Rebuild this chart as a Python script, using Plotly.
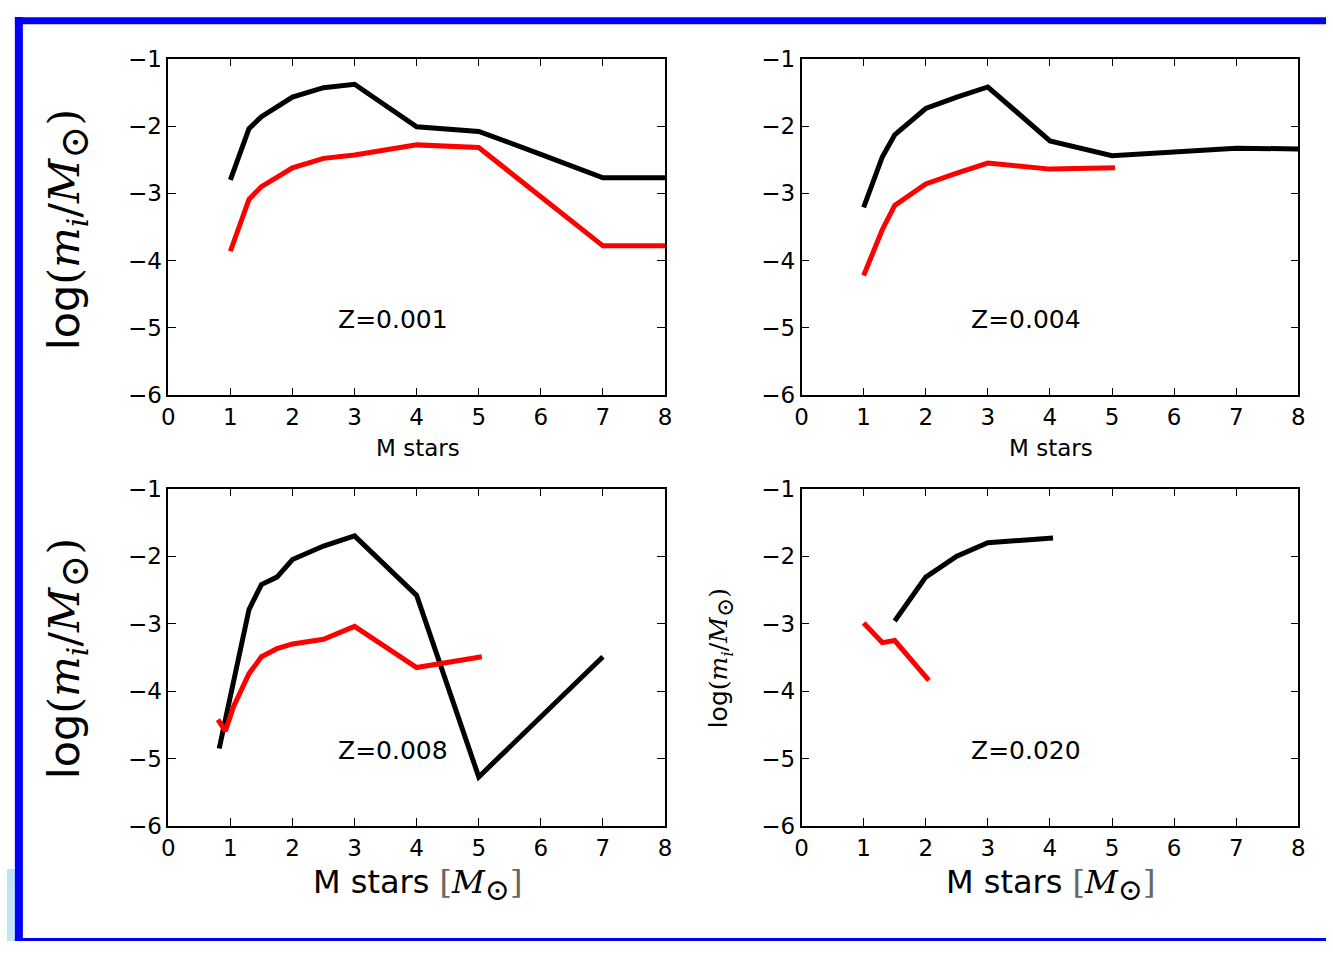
import plotly.graph_objects as go

# ---------------- data ----------------
# Z = 0.001
m1_black = [1.0, 1.3, 1.5, 2.0, 2.5, 3.0, 4.0, 5.0, 6.0, 7.0, 8.0]
y1_black = [-2.80, -2.04, -1.86, -1.57, -1.43, -1.38, -2.01, -2.08, -2.42, -2.77, -2.77]
m1_red = [1.0, 1.3, 1.5, 2.0, 2.5, 3.0, 4.0, 5.0, 7.0, 8.0]
y1_red = [-3.86, -3.09, -2.90, -2.62, -2.48, -2.43, -2.28, -2.32, -3.78, -3.78]

# Z = 0.004
m2_black = [1.0, 1.3, 1.5, 2.0, 2.5, 3.0, 4.0, 5.0, 7.0, 8.0]
y2_black = [-3.21, -2.46, -2.13, -1.74, -1.57, -1.42, -2.22, -2.44, -2.33, -2.34]
m2_red = [1.0, 1.3, 1.5, 2.0, 2.5, 3.0, 4.0, 5.05]
y2_red = [-4.22, -3.54, -3.18, -2.86, -2.70, -2.55, -2.64, -2.62]

# Z = 0.008
m3_black = [0.82, 1.3, 1.5, 1.75, 2.0, 2.5, 3.0, 4.0, 5.0, 7.0]
y3_black = [-4.85, -2.79, -2.42, -2.31, -2.05, -1.85, -1.70, -2.58, -5.27, -3.49]
m3_red = [0.8, 0.92, 1.05, 1.3, 1.5, 1.75, 2.0, 2.5, 3.0, 4.0, 5.05]
y3_red = [-4.42, -4.59, -4.23, -3.74, -3.49, -3.37, -3.30, -3.23, -3.04, -3.65, -3.49]

# Z = 0.020
m4_black = [1.5, 1.75, 2.0, 2.5, 3.0, 4.05]
y4_black = [-2.96, -2.64, -2.31, -2.00, -1.80, -1.73]
m4_red = [1.0, 1.3, 1.5, 1.75, 2.05]
y4_red = [-2.99, -3.28, -3.25, -3.53, -3.84]

panel_labels = ["Z=0.001", "Z=0.004", "Z=0.008", "Z=0.020"]
x_ticks = [0, 1, 2, 3, 4, 5, 6, 7, 8]
y_ticks = [-6, -5, -4, -3, -2, -1]
y_ticktext = ["\u22126", "\u22125", "\u22124", "\u22123", "\u22122", "\u22121"]

# ---------------- figure ----------------
W, H = 1333, 954
fig = go.Figure()

series = [
    (m1_black, y1_black, m1_red, y1_red, "x", "y"),
    (m2_black, y2_black, m2_red, y2_red, "x2", "y2"),
    (m3_black, y3_black, m3_red, y3_red, "x3", "y3"),
    (m4_black, y4_black, m4_red, y4_red, "x4", "y4"),
]
for mb, yb, mr, yr, xa, ya in series:
    fig.add_trace(go.Scatter(x=mb, y=yb, mode="lines", xaxis=xa, yaxis=ya,
                             line=dict(color="black", width=5), showlegend=False))
    fig.add_trace(go.Scatter(x=mr, y=yr, mode="lines", xaxis=xa, yaxis=ya,
                             line=dict(color="#ff0000", width=5), showlegend=False))

def px_x(p):
    return p / W

def px_y(p):
    return 1 - p / H

xdom_left = [px_x(163), px_x(665)]
xdom_right = [px_x(803), px_x(1305)]
ydom_top = [px_y(393), px_y(47)]
ydom_bot = [px_y(836), px_y(489)]

font_main = "DejaVu Sans"
axis_common = dict(
    showline=True, linecolor="black", linewidth=1.5, mirror="allticks",
    ticks="inside", ticklen=8, tickwidth=1, tickcolor="black",
    showgrid=False, zeroline=False,
    tickfont=dict(family=font_main, size=23, color="black"),
)
xcommon = dict(axis_common, range=[0, 8], tickvals=x_ticks)
ycommon = dict(axis_common, range=[-6, -1], tickvals=y_ticks, ticktext=y_ticktext)

fig.update_layout(
    width=W, height=H,
    margin=dict(l=0, r=0, t=0, b=0),
    paper_bgcolor="white", plot_bgcolor="white",
    xaxis=dict(xcommon, domain=xdom_left, anchor="y"),
    yaxis=dict(ycommon, domain=ydom_top, anchor="x"),
    xaxis2=dict(xcommon, domain=xdom_right, anchor="y2"),
    yaxis2=dict(ycommon, domain=ydom_top, anchor="x2"),
    xaxis3=dict(xcommon, domain=xdom_left, anchor="y3"),
    yaxis3=dict(ycommon, domain=ydom_bot, anchor="x3"),
    xaxis4=dict(xcommon, domain=xdom_right, anchor="y4"),
    yaxis4=dict(ycommon, domain=ydom_bot, anchor="x4"),
)

annotations = []
# panel labels
for lab, xr, yr in zip(panel_labels, ["x", "x2", "x3", "x4"], ["y", "y2", "y3", "y4"]):
    annotations.append(dict(text=lab, x=2.7, y=-4.88, xref=xr, yref=yr,
                            xanchor="left", yanchor="middle", showarrow=False,
                            font=dict(family=font_main, size=25, color="black")))

def ylab(sz):
    return ('log<span style="font-family:DejaVu Serif">(<i>m</i><sub><i>i</i></sub>'
            '/<i>M</i><sub><span style="font-size:%dpx">\u2299</span></sub>)</span>' % sz)

xlab_small = "M stars"
xlab_big = ('M stars <span style="font-family:DejaVu Serif;color:#666666">[</span>'
            '<span style="font-family:DejaVu Serif"><i>M</i><sub>'
            '<span style="font-size:30px">\u2299</span></sub></span>'
            '<span style="font-family:DejaVu Serif;color:#666666">]</span>')

annotations += [
    dict(text=xlab_small, x=px_x(415), y=px_y(432), xref="paper", yref="paper",
         xanchor="center", yanchor="top", showarrow=False,
         font=dict(family=font_main, size=23, color="black")),
    dict(text=xlab_small, x=px_x(1055), y=px_y(432), xref="paper", yref="paper",
         xanchor="center", yanchor="top", showarrow=False,
         font=dict(family=font_main, size=23, color="black")),
    dict(text=xlab_big, x=px_x(415), y=px_y(872), xref="paper", yref="paper",
         xanchor="center", yanchor="top", showarrow=False,
         font=dict(family=font_main, size=32, color="black")),
    dict(text=xlab_big, x=px_x(1055), y=px_y(872), xref="paper", yref="paper",
         xanchor="center", yanchor="top", showarrow=False,
         font=dict(family=font_main, size=32, color="black")),
    dict(text=ylab(40), x=px_x(62), y=px_y(222), xref="paper", yref="paper",
         xanchor="center", yanchor="middle", showarrow=False, textangle=-90,
         font=dict(family=font_main, size=43, color="black")),
    dict(text=ylab(40), x=px_x(62), y=px_y(663), xref="paper", yref="paper",
         xanchor="center", yanchor="middle", showarrow=False, textangle=-90,
         font=dict(family=font_main, size=43, color="black")),
    dict(text=ylab(23), x=px_x(722), y=px_y(663), xref="paper", yref="paper",
         xanchor="center", yanchor="middle", showarrow=False, textangle=-90,
         font=dict(family=font_main, size=25, color="black")),
]
fig.update_layout(annotations=annotations)

# blue frame of the slide
shapes = [
    dict(type="rect", xref="paper", yref="paper", x0=0, x1=px_x(8), y0=px_y(954), y1=px_y(880),
         fillcolor="#bfe3f7", line=dict(width=0), layer="below"),
    dict(type="line", xref="paper", yref="paper", x0=px_x(12), x1=px_x(12), y0=px_y(954), y1=px_y(4),
         line=dict(color="#0000ff", width=8)),
    dict(type="line", xref="paper", yref="paper", x0=px_x(8), x1=1.0, y0=px_y(8), y1=px_y(8),
         line=dict(color="#0000ff", width=7)),
    dict(type="line", xref="paper", yref="paper", x0=px_x(8), x1=1.0, y0=px_y(952.5), y1=px_y(952.5),
         line=dict(color="#0000ff", width=3)),
]
fig.update_layout(shapes=shapes)

fig.write_html(
    "out.html",
    config={"displayModeBar": False},
    post_script="document.body.style.margin='0px';document.body.style.overflow='hidden';",
)
